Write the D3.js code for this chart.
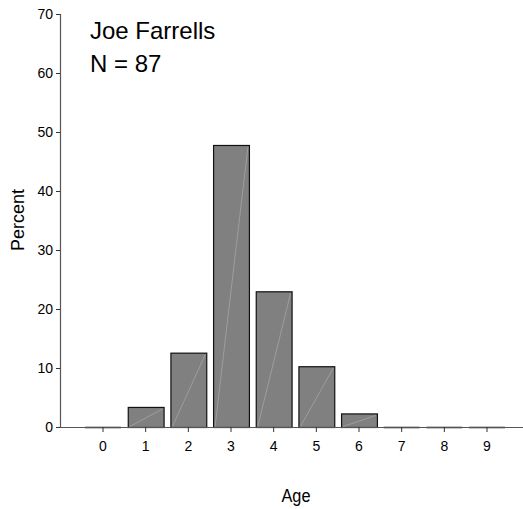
<!DOCTYPE html>
<html>
<head>
<meta charset="utf-8">
<script src="https://cdn.jsdelivr.net/npm/d3@7"></script>
<style>
  body { margin: 0; background: #fff; }
  svg { display: block; }
  text { font-family: "Liberation Sans", Arial, sans-serif; fill: #000; }
</style>
</head>
<body>
<svg id="chart" width="523" height="509"></svg>
<script>
// ---- data ----
const ages = ["0", "1", "2", "3", "4", "5", "6", "7", "8", "9"];
const percents = [0, 3.4, 12.6, 47.8, 23.0, 10.3, 2.3, 0, 0, 0];
const yTicks = [0, 10, 20, 30, 40, 50, 60, 70];
const titleLines = ["Joe Farrells", "N = 87"];
const xLabel = "Age";
const yLabel = "Percent";

const svg = d3.select("#chart");
const axisX = 60, axisRight = 523;
const y = d3.scaleLinear().domain([0, 70]).range([427, 14]);
const x = d3.scaleBand().domain(ages).range([81.67, 508.33]).paddingInner(0.16).paddingOuter(0.08);

const data = ages.map((a, i) => ({ age: a, v: percents[i] }));

// bars
const g = svg.append("g");
data.forEach(d => {
  const x0 = x(d.age), w = x.bandwidth(), y0 = y(d.v), y1 = y(0);
  if (d.v > 0) {
    g.append("rect")
      .attr("x", x0 + 0.5).attr("y", y0 + 0.5)
      .attr("width", w).attr("height", y1 - y0)
      .attr("fill", "#808080").attr("stroke", "#111").attr("stroke-width", 1.2);
    g.append("line")
      .attr("x1", x0 + 2).attr("y1", y1 - 0.5)
      .attr("x2", x0 + w - 1).attr("y2", y0 + 2)
      .attr("stroke", "#a9a9a9").attr("stroke-width", 0.7);
  } else {
    g.append("line")
      .attr("x1", x0).attr("x2", x0 + w)
      .attr("y1", y1 + 0.5).attr("y2", y1 + 0.5)
      .attr("stroke", "#111").attr("stroke-width", 1.5);
  }
});

// y axis
const yAxis = svg.append("g");
yAxis.append("line").attr("x1", axisX + 0.5).attr("x2", axisX + 0.5)
  .attr("y1", y(70)).attr("y2", y(0)).attr("stroke", "#555").attr("stroke-width", 1.2);
yTicks.forEach(t => {
  yAxis.append("line").attr("x1", axisX - 4).attr("x2", axisX)
    .attr("y1", y(t) + 0.5).attr("y2", y(t) + 0.5).attr("stroke", "#333");
  yAxis.append("text").attr("x", axisX - 7).attr("y", y(t) + 5)
    .attr("text-anchor", "end").attr("font-size", 14).text(t);
});

// x axis
const xAxis = svg.append("g");
xAxis.append("line").attr("x1", axisX).attr("x2", axisRight)
  .attr("y1", y(0) + 0.5).attr("y2", y(0) + 0.5).attr("stroke", "#555").attr("stroke-width", 1.2);
ages.forEach(a => {
  const cx = x(a) + x.bandwidth() / 2;
  xAxis.append("line").attr("x1", cx).attr("x2", cx)
    .attr("y1", y(0)).attr("y2", y(0) + 5).attr("stroke", "#333");
  xAxis.append("text").attr("x", cx).attr("y", 451)
    .attr("text-anchor", "middle").attr("font-size", 14).text(a);
});

// titles
titleLines.forEach((t, i) => {
  svg.append("text").attr("x", 90).attr("y", 39 + i * 33)
    .attr("font-size", 24).text(t);
});

// axis labels
svg.append("text").attr("x", 296).attr("y", 502).attr("text-anchor", "middle")
  .attr("font-size", 18).attr("textLength", 29).attr("lengthAdjust", "spacingAndGlyphs").text(xLabel);
svg.append("text").attr("transform", "translate(24,220) rotate(-90)")
  .attr("text-anchor", "middle").attr("font-size", 18).text(yLabel);
</script>
</body>
</html>
